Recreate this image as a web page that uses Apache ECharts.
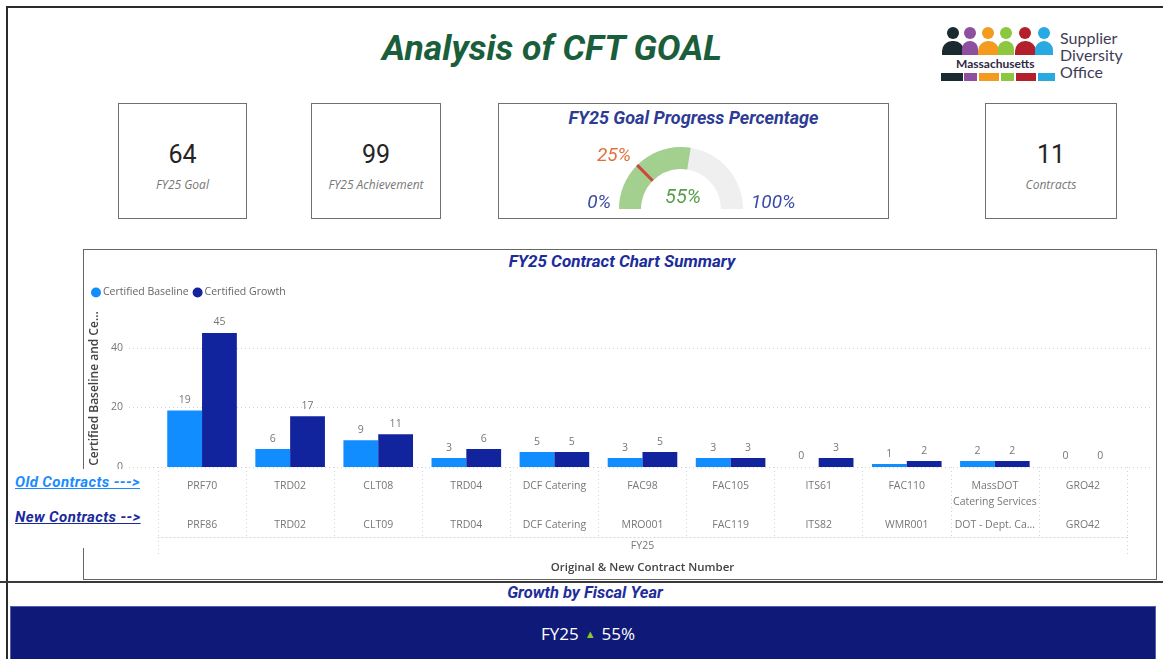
<!DOCTYPE html>
<html>
<head>
<meta charset="utf-8">
<script src="https://cdn.jsdelivr.net/npm/echarts@6/dist/echarts.min.js"></script>
<style>
body{margin:0;width:1163px;height:659px;overflow:hidden;background:#fff;position:relative;font-family:'Open Sans',sans-serif}
.abs{position:absolute}
#frame{left:6px;top:6px;width:1170px;height:670px;border-left:2px solid #2b2b2b;border-top:2px solid #2b2b2b}
#title{left:352px;top:27px;width:400px;text-align:center;font:italic bold 35.5px Roboto;color:#1b5e3b;line-height:42px}
.card{border:1.5px solid #707070;box-sizing:border-box;background:#fff}
.kval{position:absolute;left:0;right:0;text-align:center;font:25px Roboto;color:#252423}
.klab{position:absolute;left:0;right:0;text-align:center;font:italic 12px 'Open Sans';color:#777}
#gtitle{position:absolute;left:0;right:0;top:3px;text-align:center;font:italic bold 18px Roboto;color:#2d3b94}
#chartbox{left:83px;top:249px;width:1074px;height:331px;border:1.5px solid #666;box-sizing:border-box}
#ctitle{left:83px;top:251px;width:1078px;text-align:center;font:italic bold 17px Roboto;color:#1c2c9b}
#main{left:0;top:0;width:1163px;height:659px;z-index:1}
#mask{left:9px;top:469px;width:140px;height:79px;background:#fff;z-index:2}
.clink{position:absolute;left:6px;font:italic bold 15px Roboto;letter-spacing:0.4px;text-decoration:underline;white-space:nowrap}
#sect{left:0;top:581px;width:1163px;height:0;border-top:2px solid #3a3a3a}
#gtitle2{left:385px;top:582px;width:400px;text-align:center;font:italic bold 16.5px Roboto;color:#1f2d9c;line-height:22px}
#band{left:10px;top:606px;width:1146px;height:60px;background:#0f1a78;border:1px solid #5560a8;box-sizing:border-box}
#bandtxt{position:absolute;left:10px;right:0;top:15px;text-align:center;color:#fff;font:17px 'Open Sans'}
#bandtxt .tri{color:#8cc826;font-size:11px;margin:0 6px;position:relative;top:-2px}
.head{position:absolute;width:12px;height:12px;border-radius:50%}
.body{position:absolute;height:14px;border-radius:10px 10px 0 0}
.foot{position:absolute;height:8px}
.ltx{position:absolute;left:1060px;font:16px Lato;color:#3f3b58;line-height:18px}
#mass{left:954px;top:57px;font:bold 12px Lato;color:#2e2a44;background:#fff;padding:0 2px;line-height:13px}
</style>
</head>
<body>
<div id="frame" class="abs"></div>
<div id="title" class="abs">Analysis of CFT GOAL</div>
<div id="logo"></div>
<div class="ltx" style="top:29px">Supplier</div>
<div class="ltx" style="top:46px">Diversity</div>
<div class="ltx" style="top:63px">Office</div>
<div id="mass" class="abs">Massachusetts</div>
<div id="cards"></div>
<div id="gcard" class="abs card" style="left:498px;top:103px;width:391px;height:116px"><div id="gtitle">FY25 Goal Progress Percentage</div></div>
<div id="chartbox" class="abs"></div>
<div id="ctitle" class="abs">FY25 Contract Chart Summary</div>
<div id="main" class="abs"></div>
<div id="mask" class="abs">
  <div class="clink" style="top:4px;color:#1a8cff">Old Contracts ---&gt; </div>
  <div class="clink" style="top:39px;color:#1a2a9b">New Contracts --&gt;</div>
</div>
<div id="sect" class="abs"></div>
<div id="gtitle2" class="abs">Growth by Fiscal Year</div>
<div id="band" class="abs"><div id="bandtxt"></div></div>
<script>
// KPI cards
var kpiValues = [64, 99, 11];
var kpiLabels = ['FY25 Goal', 'FY25 Achievement', 'Contracts'];
// gauge
var gaugeValue = 55;
var gaugeTarget = 25;
var gaugeMin = 0, gaugeMax = 100;
// bar chart
var oldContracts = ['PRF70', 'TRD02', 'CLT08', 'TRD04', 'DCF Catering', 'FAC98', 'FAC105', 'ITS61', 'FAC110', 'MassDOT\nCatering Services', 'GRO42'];
var newContracts = ['PRF86', 'TRD02', 'CLT09', 'TRD04', 'DCF Catering', 'MRO001', 'FAC119', 'ITS82', 'WMR001', 'DOT - Dept. Ca...', 'GRO42'];
var baseline = [19, 6, 9, 3, 5, 3, 3, 0, 1, 2, 0];
var growth = [45, 17, 11, 6, 5, 5, 3, 3, 2, 2, 0];
var fiscalYears = ['FY25'];
var growthPct = 55;

// cards layout
var cardBoxes = [[118, 129], [311, 130], [985, 132]];
var html = '';
for (var i = 0; i < kpiValues.length; i++) {
	html += '<div class="abs card" style="left:' + cardBoxes[i][0] + 'px;top:103px;width:' + cardBoxes[i][1] + 'px;height:116px">' +
		'<div class="kval" style="top:36px">' + kpiValues[i] + '</div>' +
		'<div class="klab" style="top:72px">' + kpiLabels[i] + '</div></div>';
}
document.getElementById('cards').innerHTML = html;

// logo (decoration)
var logoCols = ['#1b2a30', '#8f4f9f', '#f29b1f', '#8dc63f', '#b3202c', '#29a9e1'];
var headX = [953, 970, 988, 1006, 1025, 1044];
var bodyW = [22, 16, 21, 16, 21, 18];
var footX = [[941, 22], [964, 13], [979, 20], [1001, 13], [1016, 20], [1038, 17]];
var lg = '';
for (var j = 0; j < logoCols.length; j++) {
	lg += '<div class="head" style="left:' + (headX[j] - 6) + 'px;top:27px;background:' + logoCols[j] + '"></div>';
	lg += '<div class="body" style="left:' + (headX[j] - bodyW[j] / 2) + 'px;top:41px;width:' + bodyW[j] + 'px;background:' + logoCols[j] + '"></div>';
	lg += '<div class="foot" style="left:' + footX[j][0] + 'px;top:73px;width:' + footX[j][1] + 'px;background:' + logoCols[j] + '"></div>';
}
document.getElementById('logo').innerHTML = lg;

document.getElementById('bandtxt').innerHTML = fiscalYears[0] + '<span class="tri">&#9650;</span>' + growthPct + '%';

function extend(a, b) {
	var o = {};
	for (var k in a) o[k] = a[k];
	for (var k2 in b) o[k2] = b[k2];
	return o;
}

var myChart = echarts.init(document.getElementById('main'));
var dotted = {color: '#d2d2d2', type: [1, 3], width: 1};
var gaugeLab = {width: 50, color: '#3b4aa6', fontSize: 19, fontStyle: 'italic', fontFamily: 'Roboto', padding: [0, 0, 12, 0]};
var option = {
	animation: false,
	textStyle: {fontFamily: 'Open Sans'},
	legend: {
		data: ['Certified Baseline', 'Certified Growth'],
		left: 86, top: 282,
		icon: 'circle', itemWidth: 10, itemHeight: 10, itemGap: 4,
		textStyle: {color: '#666', fontSize: 10.5, padding: [0, 0, 0, -3]}
	},
	grid: [
		{left: 129, right: 10, top: 318, height: 149},
		{left: 158, right: 36, top: 318, height: 149}
	],
	xAxis: [
		{gridIndex: 0, type: 'category', show: false, data: oldContracts},
		{
			gridIndex: 1, type: 'category', position: 'bottom', data: oldContracts,
			axisLine: {show: false},
			axisTick: {show: true, interval: 0, length: 70, lineStyle: dotted},
			axisLabel: {interval: 0, margin: 11, color: '#777', fontSize: 10.5, lineHeight: 16}
		},
		{
			gridIndex: 1, type: 'category', position: 'bottom', data: newContracts, offset: 42,
			axisLine: {show: false}, axisTick: {show: false},
			axisLabel: {interval: 0, margin: 11, color: '#777', fontSize: 10.5}
		},
		{
			gridIndex: 1, type: 'category', position: 'bottom', data: fiscalYears, offset: 70,
			axisLine: {show: true, lineStyle: dotted},
			axisTick: {show: true, length: 20, lineStyle: dotted},
			axisLabel: {margin: 4, color: '#777', fontSize: 10.5},
			name: 'Original & New Contract Number', nameLocation: 'middle', nameGap: 25,
			nameTextStyle: {color: '#444', fontSize: 11.5, fontWeight: 600}
		}
	],
	yAxis: [
		{
			gridIndex: 0, type: 'value', min: 0, max: 50, interval: 20,
			axisLine: {show: false}, axisTick: {show: false},
			axisLabel: {color: '#777', fontSize: 10.5, margin: 6, showMaxLabel: false},
			splitLine: {show: true, showMaxLine: false, lineStyle: dotted},
			name: 'Certified Baseline and Certified Growth', nameLocation: 'middle', nameGap: 22, nameRotate: 90,
			nameTruncate: {maxWidth: 158, ellipsis: '...'},
			nameTextStyle: {color: '#444', fontSize: 12, fontWeight: 600, padding: [0, 0, 0, 8]}
		},
		{gridIndex: 1, type: 'value', min: 0, max: 50, interval: 20, show: false, splitLine: {show: false}}
	],
	series: [
		{
			type: 'gauge', center: [681, 209], radius: 62, startAngle: 180, endAngle: 0,
			min: gaugeMin, max: gaugeMax, splitNumber: 1,
			axisLine: {lineStyle: {width: 22, color: [[1, '#efefef']]}},
			progress: {show: true, width: 22, itemStyle: {color: '#a3cf8f'}},
			pointer: {show: false}, anchor: {show: false}, axisTick: {show: false},
			splitLine: {show: false, length: 0, distance: 0},
			axisLabel: {
				distance: -58,
				formatter: function (v) { return v === gaugeMin ? '{l|' + v + '%}' : '{r|' + v + '%}'; },
				rich: {
					l: extend(gaugeLab, {align: 'right'}),
					r: extend(gaugeLab, {align: 'left'})
				}
			},
			title: {show: false},
			detail: {offsetCenter: [2, -11], formatter: '{value}%', color: '#5a9e4c', fontSize: 20, fontStyle: 'italic', fontWeight: 'normal', fontFamily: 'Roboto'},
			data: [{value: gaugeValue}]
		},
		{
			type: 'gauge', z: 6, center: [681, 209], radius: 62, startAngle: 180, endAngle: 0,
			min: gaugeMin, max: gaugeMax,
			axisLine: {show: false, lineStyle: {width: 22}}, progress: {show: false}, axisTick: {show: false},
			splitLine: {show: false}, axisLabel: {show: false}, anchor: {show: false}, title: {show: false},
			pointer: {show: true, icon: 'rect', width: 3, length: 22, offsetCenter: [0, -40], itemStyle: {color: '#cf4440', opacity: 1}},
			detail: {offsetCenter: [-67, -53], formatter: '{value}%', color: '#e0713d', fontSize: 19, fontStyle: 'italic', fontWeight: 'normal', fontFamily: 'Roboto'},
			data: [{value: gaugeTarget}]
		},
		{
			name: 'Certified Baseline', type: 'bar', xAxisIndex: 1, yAxisIndex: 1,
			data: baseline, barGap: '0%', barCategoryGap: '21%',
			itemStyle: {color: '#118dff'},
			label: {show: true, position: 'top', color: '#777', fontSize: 10.5, distance: 5}
		},
		{
			name: 'Certified Growth', type: 'bar', xAxisIndex: 1, yAxisIndex: 1,
			data: growth, barGap: '0%', barCategoryGap: '21%',
			itemStyle: {color: '#12239e'},
			label: {show: true, position: 'top', color: '#777', fontSize: 10.5, distance: 5}
		}
	]
};
myChart.setOption(option);
</script>
</body>
</html>
